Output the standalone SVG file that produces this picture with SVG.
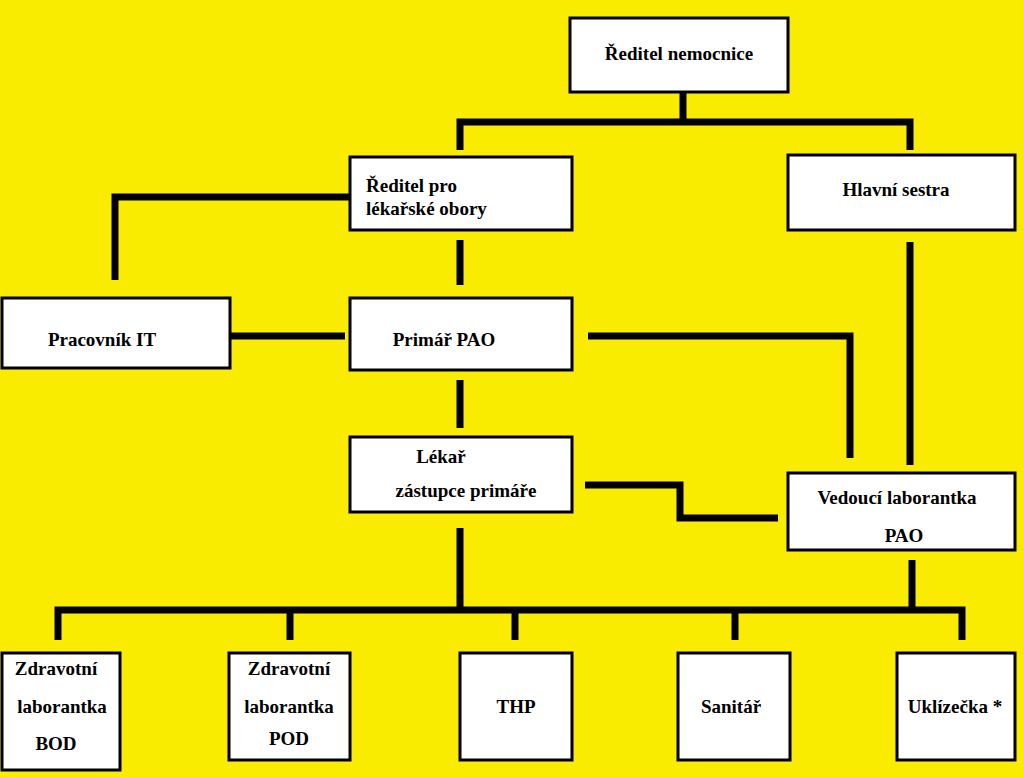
<svg xmlns="http://www.w3.org/2000/svg" width="1023" height="777" viewBox="0 0 1023 777">
<style>
.b{fill:#fff;stroke:#000;stroke-width:3}
.t{font-family:'Liberation Serif','DejaVu Serif',serif;font-weight:bold;font-size:19px;fill:#000}
.c{fill:none;stroke:#000;stroke-width:7}
</style>
<rect width="1023" height="777" fill="#F9EC00"/>
<g id="connectors">
<path class="c" d="M683,92V122M460,150V122H910V150"/>
<path class="c" d="M350,197H115V280"/>
<path class="c" d="M460,240V285M460,380V428"/>
<path class="c" d="M230,336H345"/>
<path class="c" d="M588,336H850V458"/>
<path class="c" d="M910,242V465"/>
<path class="c" d="M585,485H680V518H778"/>
<path class="c" d="M460,528V610M912,560V610M58,640V610H962V640M290,610V640M515,610V640M735,610V640"/>
</g>
<g id="n1"><rect class="b" x="570" y="18" width="218" height="74"/><text class="t" x="679" y="60" text-anchor="middle">Ředitel nemocnice</text></g>
<g id="n2"><rect class="b" x="350" y="157" width="222" height="73"/><text class="t" x="366" y="192">Ředitel pro</text><text class="t" x="366" y="215">lékařské obory</text></g>
<g id="n3"><rect class="b" x="788" y="155" width="227" height="75"/><text class="t" x="896" y="196" text-anchor="middle">Hlavní sestra</text></g>
<g id="n4"><rect class="b" x="2" y="298" width="228" height="70"/><text class="t" x="102" y="346" text-anchor="middle">Pracovník IT</text></g>
<g id="n5"><rect class="b" x="350" y="298" width="222" height="72"/><text class="t" x="444" y="346" text-anchor="middle">Primář PAO</text></g>
<g id="n6"><rect class="b" x="350" y="437" width="222" height="75"/><text class="t" x="441" y="463" text-anchor="middle">Lékař</text><text class="t" x="466" y="497" text-anchor="middle">zástupce primáře</text></g>
<g id="n7"><rect class="b" x="788" y="473" width="227" height="77"/><text class="t" x="897" y="504" text-anchor="middle">Vedoucí laborantka</text><text class="t" x="904" y="542" text-anchor="middle">PAO</text></g>
<g id="n8"><rect class="b" x="2" y="653" width="118" height="117"/><text class="t" x="56" y="675" text-anchor="middle">Zdravotní</text><text class="t" x="62" y="713" text-anchor="middle">laborantka</text><text class="t" x="56" y="750" text-anchor="middle">BOD</text></g>
<g id="n9"><rect class="b" x="229" y="653" width="121" height="107"/><text class="t" x="289" y="675" text-anchor="middle">Zdravotní</text><text class="t" x="289" y="713" text-anchor="middle">laborantka</text><text class="t" x="289" y="745" text-anchor="middle">POD</text></g>
<g id="n10"><rect class="b" x="460" y="653" width="112" height="107"/><text class="t" x="516" y="713" text-anchor="middle">THP</text></g>
<g id="n11"><rect class="b" x="678" y="653" width="112" height="107"/><text class="t" x="731" y="713" text-anchor="middle">Sanitář</text></g>
<g id="n12"><rect class="b" x="897" y="653" width="118" height="107"/><text class="t" x="955" y="713" text-anchor="middle">Uklízečka *</text></g>
</svg>
